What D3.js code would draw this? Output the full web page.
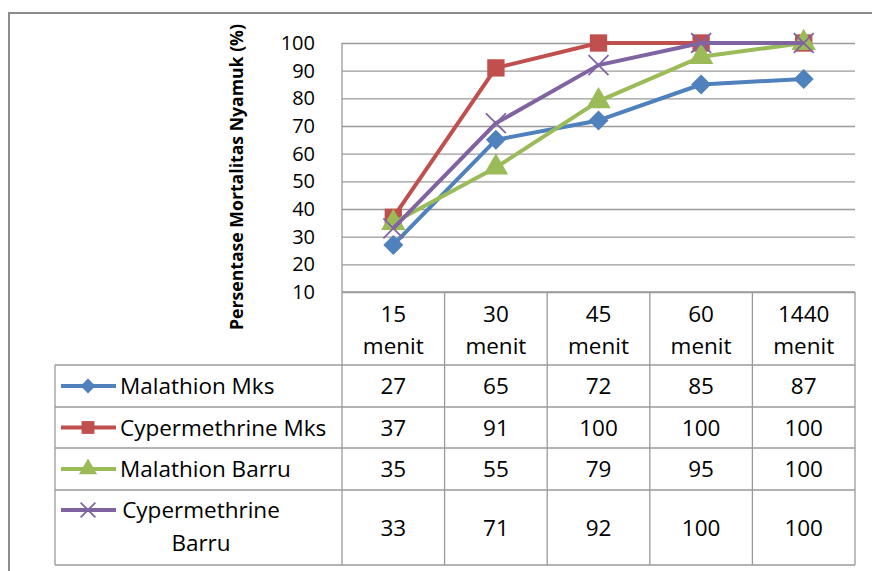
<!DOCTYPE html>
<html>
<head>
<meta charset="utf-8">
<script src="https://cdn.jsdelivr.net/npm/d3@7"></script>
<style>
  body { margin: 0; background: #fff; }
  text { font-family: "Open Sans", sans-serif; fill: #000; }
</style>
</head>
<body>
<div id="container"></div>
<script>
let w = 872;
let h = 571;

// data
let categories = ["15 menit", "30 menit", "45 menit", "60 menit", "1440 menit"];
let seriesNames = ["Malathion Mks", "Cypermethrine Mks", "Malathion Barru", "Cypermethrine Barru"];
let malathionMks = [27, 65, 72, 85, 87];
let cypermethrineMks = [37, 91, 100, 100, 100];
let malathionBarru = [35, 55, 79, 95, 100];
let cypermethrineBarru = [33, 71, 92, 100, 100];
let yTicks = [10, 20, 30, 40, 50, 60, 70, 80, 90, 100];

let colors = ["#4F81BD", "#C0504D", "#9BBB59", "#8064A2"];
let markers = ["diamond", "square", "triangle", "x"];
let allValues = [malathionMks, cypermethrineMks, malathionBarru, cypermethrineBarru];

let series = seriesNames.map(function(name, i){
  return {name: name, values: allValues[i], color: colors[i], marker: markers[i]};
});

let plotLeft = 342, plotRight = 855, plotTop = 43, plotBottom = 292;
let tableLeft = 55;
let rowEdges = [292, 365, 407, 448, 490, 565];
let gridColor = "#9a9a9a";
let fs = "22.5px";

let viz = d3.select("#container")
  .append("svg")
    .attr("width", w)
    .attr("height", h)
    .style("background-color", "#fff");

// outer chart border
viz.append("path")
  .attr("d", "M9," + h + " L9,13 L" + w + ",13")
  .attr("fill", "none")
  .attr("stroke", "#8c8c8c")
  .attr("stroke-width", 2);

let xScale = d3.scaleBand().domain(categories).range([plotLeft, plotRight]);
let yScale = d3.scaleLinear().domain([10, 100]).range([plotBottom, plotTop]);

// gridlines
let grid = viz.append("g")
  .attr("transform", "translate(" + plotLeft + ",0)")
  .call(d3.axisRight(yScale).tickValues(yTicks).tickSize(plotRight - plotLeft).tickFormat(""));
grid.select(".domain").remove();
grid.selectAll(".tick line").attr("stroke", gridColor).attr("stroke-width", 1.3);

// y tick labels (kept a bit smaller so the rows don't collide)
let yAxisGroup = viz.append("g")
  .attr("transform", "translate(" + plotLeft + ",0)")
  .call(d3.axisLeft(yScale).tickValues(yTicks).tickSize(0).tickPadding(27));
yAxisGroup.select(".domain").remove();
yAxisGroup.selectAll("text")
  .style("font-family", "'Open Sans', sans-serif")
  .style("font-size", "20px")
  .attr("fill", "#000");

// plot left border
viz.append("line")
  .attr("x1", plotLeft).attr("x2", plotLeft)
  .attr("y1", plotTop).attr("y2", rowEdges[5])
  .attr("stroke", gridColor).attr("stroke-width", 1.3);

// axis title
viz.append("text")
  .attr("transform", "translate(243," + 177 + ") rotate(-90)")
  .attr("text-anchor", "middle")
  .style("font-size", "17px")
  .style("font-weight", "bold")
  .attr("textLength", 306)
  .attr("lengthAdjust", "spacingAndGlyphs")
  .text("Persentase Mortalitas Nyamuk (%)");

// data table lines
let tableLines = viz.append("g").attr("stroke", gridColor).attr("stroke-width", 1.3);
rowEdges.forEach(function(y, i){
  tableLines.append("line")
    .attr("x1", i == 0 ? plotLeft : tableLeft).attr("x2", plotRight)
    .attr("y1", y).attr("y2", y);
});
tableLines.append("line")
  .attr("x1", tableLeft).attr("x2", tableLeft)
  .attr("y1", rowEdges[1]).attr("y2", rowEdges[5]);
categories.forEach(function(c){
  let x = xScale(c) + xScale.bandwidth();
  tableLines.append("line")
    .attr("x1", x).attr("x2", x)
    .attr("y1", plotBottom).attr("y2", rowEdges[5]);
});

// header labels
categories.forEach(function(c){
  let parts = c.split(" ");
  let cx = xScale(c) + xScale.bandwidth() / 2;
  viz.append("text")
    .attr("x", cx).attr("y", 322)
    .attr("text-anchor", "middle")
    .style("font-size", fs)
    .text(parts[0]);
  viz.append("text")
    .attr("x", cx).attr("y", 354)
    .attr("text-anchor", "middle")
    .style("font-size", fs)
    .text(parts[1]);
});

function markerPath(type, size){
  if(type == "diamond") return d3.symbol().type(d3.symbolSquare).size(size)();
  if(type == "square") return d3.symbol().type(d3.symbolSquare).size(size)();
  if(type == "triangle") return d3.symbol().type(d3.symbolTriangle).size(size)();
  return d3.symbol().type(d3.symbolTimes).size(size)();
}

function drawMarker(g, s, x, y, scale){
  let rot = s.marker == "diamond" ? 45 : 0;
  let size = {diamond: 200, square: 300, triangle: 260, x: 260}[s.marker] * scale;
  let p = g.append("path")
    .attr("d", markerPath(s.marker, size))
    .attr("transform", "translate(" + x + "," + y + ") rotate(" + rot + ")");
  if(s.marker == "x"){
    p.attr("fill", "none").attr("stroke", s.color).attr("stroke-width", 1.8);
  }else{
    p.attr("fill", s.color);
  }
}

// lines and markers
let line = d3.line()
  .x(function(d, i){ return xScale(categories[i]) + xScale.bandwidth() / 2; })
  .y(function(d){ return yScale(d); });

series.forEach(function(s){
  let g = viz.append("g");
  g.append("path")
    .attr("d", line(s.values))
    .attr("fill", "none")
    .attr("stroke", s.color)
    .attr("stroke-width", 4)
    .attr("stroke-linejoin", "round");
  s.values.forEach(function(v, i){
    drawMarker(g, s, xScale(categories[i]) + xScale.bandwidth() / 2, yScale(v), 1);
  });
});

// table rows: legend keys, names, values
series.forEach(function(s, r){
  let top = rowEdges[r + 1], bottom = rowEdges[r + 2];
  let mid = (top + bottom) / 2;
  let g = viz.append("g");
  let keyY = mid;
  if(r == 3){
    keyY = 510;
    g.append("text").attr("x", 201).attr("y", 518).attr("text-anchor", "middle")
      .style("font-size", fs).text("Cypermethrine");
    g.append("text").attr("x", 201).attr("y", 551).attr("text-anchor", "middle")
      .style("font-size", fs).text("Barru");
  }else{
    g.append("text").attr("x", 120).attr("y", mid + 8)
      .style("font-size", fs).text(s.name);
  }
  g.append("line")
    .attr("x1", 61).attr("x2", 116)
    .attr("y1", keyY).attr("y2", keyY)
    .attr("stroke", s.color).attr("stroke-width", 4);
  drawMarker(g, s, 88, keyY, 0.55);
  s.values.forEach(function(v, i){
    g.append("text")
      .attr("x", xScale(categories[i]) + xScale.bandwidth() / 2)
      .attr("y", mid + 8)
      .attr("text-anchor", "middle")
      .style("font-size", fs)
      .text(v);
  });
});
</script>
</body>
</html>
